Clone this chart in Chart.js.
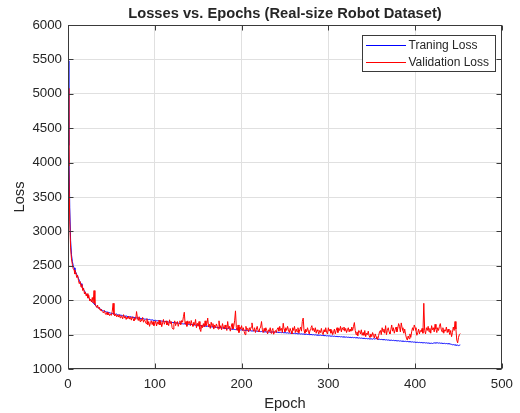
<!DOCTYPE html>
<html>
<head>
<meta charset="utf-8">
<script src="https://cdn.jsdelivr.net/npm/chart.js@4/dist/chart.umd.min.js"></script>
<style>
  html, body { margin: 0; padding: 0; background: #ffffff; }
  #plot { display: block; }
</style>
</head>
<body>
<canvas id="plot" width="520" height="413"></canvas>
<script>
// Training loss per epoch (epoch index = array position)
const trainLoss = [
  5480, 4250, 3350, 2870, 2660, 2565, 2505, 2470, 2440, 2405,
  2375, 2350, 2318, 2290, 2262, 2240, 2205, 2182, 2150, 2138,
  2105, 2090, 2072, 2055, 2030, 2018, 2000, 1988, 1972, 1960,
  1948, 1932, 1922, 1908, 1898, 1890, 1878, 1872, 1866, 1858,
  1850, 1845, 1840, 1836, 1828, 1830, 1822, 1818, 1820, 1812,
  1810, 1806, 1804, 1800, 1798, 1795, 1799, 1790, 1787, 1784,
  1782, 1785, 1778, 1774, 1776, 1770, 1768, 1772, 1764, 1761,
  1760, 1758, 1762, 1754, 1752, 1755, 1748, 1746, 1750, 1742,
  1740, 1744, 1737, 1735, 1739, 1731, 1729, 1733, 1726, 1724,
  1725, 1728, 1720, 1717, 1721, 1714, 1712, 1716, 1709, 1706,
  1705, 1708, 1702, 1700, 1704, 1697, 1699, 1695, 1698, 1694,
  1695, 1690, 1693, 1687, 1684, 1688, 1681, 1679, 1683, 1676,
  1675, 1678, 1672, 1670, 1674, 1667, 1665, 1669, 1662, 1660,
  1660, 1663, 1657, 1655, 1659, 1652, 1654, 1650, 1653, 1648,
  1650, 1646, 1648, 1643, 1641, 1645, 1639, 1637, 1640, 1634,
  1636, 1632, 1634, 1630, 1628, 1631, 1626, 1624, 1627, 1621,
  1620, 1623, 1617, 1615, 1618, 1612, 1614, 1609, 1611, 1607,
  1610, 1605, 1603, 1606, 1600, 1598, 1601, 1595, 1597, 1592,
  1594, 1589, 1591, 1586, 1585, 1588, 1582, 1584, 1579, 1581,
  1577, 1580, 1575, 1573, 1576, 1571, 1574, 1569, 1572, 1567,
  1570, 1565, 1567, 1562, 1564, 1560, 1563, 1558, 1560, 1555,
  1558, 1553, 1556, 1551, 1554, 1555, 1549, 1552, 1547, 1550,
  1545, 1548, 1543, 1546, 1541, 1544, 1539, 1542, 1540, 1537,
  1540, 1536, 1538, 1534, 1537, 1541, 1536, 1539, 1534, 1537,
  1533, 1536, 1531, 1534, 1530, 1533, 1528, 1531, 1527, 1529,
  1525, 1528, 1523, 1526, 1521, 1524, 1519, 1522, 1518, 1520,
  1516, 1519, 1514, 1517, 1512, 1515, 1510, 1513, 1508, 1511,
  1507, 1510, 1505, 1508, 1503, 1506, 1501, 1504, 1499, 1502,
  1498, 1501, 1496, 1499, 1494, 1497, 1492, 1495, 1490, 1493,
  1489, 1492, 1487, 1490, 1485, 1488, 1483, 1486, 1481, 1484,
  1480, 1483, 1478, 1481, 1476, 1479, 1474, 1477, 1472, 1475,
  1471, 1474, 1469, 1472, 1467, 1470, 1465, 1468, 1463, 1466,
  1462, 1465, 1460, 1463, 1458, 1461, 1459, 1456, 1460, 1455,
  1458, 1453, 1456, 1451, 1454, 1449, 1452, 1447, 1450, 1445,
  1448, 1443, 1446, 1441, 1444, 1439, 1442, 1437, 1440, 1436,
  1438, 1434, 1441, 1436, 1439, 1442, 1438, 1432, 1429, 1433,
  1428, 1431, 1426, 1429, 1424, 1427, 1422, 1425, 1420, 1423,
  1418, 1421, 1416, 1419, 1414, 1417, 1412, 1415, 1410, 1413,
  1408, 1411, 1406, 1409, 1404, 1407, 1402, 1405, 1400, 1403,
  1398, 1401, 1396, 1399, 1394, 1396, 1392, 1395, 1390, 1393,
  1388, 1391, 1386, 1389, 1384, 1387, 1383, 1386, 1381, 1384,
  1380, 1383, 1378, 1381, 1376, 1379, 1374, 1377, 1372, 1375,
  1371, 1376, 1380, 1377, 1382, 1378, 1381, 1376, 1379, 1374,
  1377, 1372, 1375, 1370, 1373, 1368, 1371, 1366, 1369, 1364,
  1366, 1361, 1358, 1352, 1355, 1349, 1352, 1346, 1343, 1348,
  1340, 1345, 1350
];

// Validation loss per epoch
const valLoss = [
  5080, 3950, 3150, 2760, 2600, 2520, 2455, 2440, 2380, 2400,
  2330, 2365, 2290, 2240, 2270, 2190, 2230, 2140, 2175, 2090,
  2120, 2060, 2095, 2030, 2070, 1990, 2015, 1975, 2040, 1960,
  2140, 1945, 1920, 1895, 1930, 1880, 1900, 1855, 1870, 1840,
  1830, 1815, 1850, 1800, 1790, 1825, 1785, 1810, 1775, 1795,
  1780, 1840, 1955, 1790, 1770, 1800, 1760, 1785, 1755, 1790,
  1745, 1775, 1760, 1730, 1790, 1740, 1765, 1720, 1755, 1735,
  1770, 1725, 1750, 1710, 1760, 1730, 1700, 1745, 1720, 1835,
  1740, 1705, 1760, 1690, 1725, 1700, 1750, 1680, 1715, 1695,
  1660, 1730, 1640, 1690, 1620, 1675, 1700, 1645, 1690, 1630,
  1660, 1700, 1625, 1680, 1650, 1710, 1640, 1690, 1615, 1670,
  1720, 1650, 1685, 1700, 1640, 1675, 1630, 1715, 1660, 1690,
  1600, 1580, 1650, 1700, 1630, 1675, 1690, 1620, 1665, 1700,
  1640, 1705, 1680, 1760, 1825, 1650, 1690, 1620, 1700, 1660,
  1690, 1630, 1705, 1650, 1620, 1680, 1640, 1720, 1600, 1665,
  1620, 1690, 1580, 1545, 1640, 1600, 1660, 1610, 1700, 1630,
  1660, 1740, 1610, 1650, 1590, 1680, 1620, 1660, 1580, 1640,
  1600, 1655, 1620, 1580, 1700, 1590, 1630, 1570, 1660, 1610,
  1580, 1640, 1600, 1560, 1690, 1590, 1620, 1550, 1610, 1660,
  1580, 1620, 1700, 1845, 1600, 1560, 1640, 1530, 1610, 1580,
  1630, 1560, 1600, 1545, 1500, 1620, 1570, 1590, 1540, 1600,
  1560, 1610, 1670, 1580, 1550, 1600, 1530, 1580, 1620, 1560,
  1540, 1590, 1610, 1690, 1570, 1530, 1590, 1550, 1600, 1560,
  1510, 1570, 1545, 1600, 1520, 1560, 1590, 1505, 1540, 1560,
  1530, 1580, 1600, 1550, 1620, 1560, 1590, 1530, 1665, 1580,
  1540, 1600, 1560, 1620, 1570, 1530, 1590, 1550, 1510, 1600,
  1560, 1620, 1530, 1580, 1540, 1600, 1520, 1570, 1610, 1550,
  1690, 1740, 1560, 1520, 1580, 1540, 1600, 1550, 1510, 1570,
  1600, 1630, 1560, 1590, 1540, 1600, 1520, 1570, 1550, 1510,
  1560, 1530, 1590, 1520, 1500, 1570, 1540, 1600, 1530, 1510,
  1600, 1550, 1580, 1520, 1560, 1500, 1540, 1580, 1510, 1560,
  1600, 1530, 1590, 1560, 1620, 1540, 1600, 1570, 1610, 1550,
  1590, 1530, 1570, 1600, 1540, 1580, 1550, 1610, 1560, 1620,
  1675, 1560, 1500, 1540, 1480, 1560, 1550, 1510, 1570, 1490,
  1530, 1490, 1560, 1470, 1520, 1500, 1550, 1480, 1460, 1510,
  1470, 1530, 1490, 1450, 1510, 1470, 1440, 1430, 1490, 1540,
  1560, 1500, 1600, 1540, 1580, 1520, 1630, 1500, 1560, 1600,
  1540, 1510, 1570, 1640, 1550, 1600, 1520, 1570, 1610, 1540,
  1590, 1660, 1620, 1540, 1670, 1600, 1560, 1520, 1580, 1500,
  1450, 1420, 1480, 1440, 1510, 1460, 1540, 1600, 1560, 1640,
  1600, 1560, 1490, 1530, 1580, 1510, 1560, 1540, 1590, 1520,
  1955, 1560, 1510, 1600, 1560, 1620, 1540, 1590, 1520, 1630,
  1570, 1600, 1540, 1650, 1580, 1530, 1600, 1560, 1620, 1660,
  1580, 1540, 1600, 1520, 1570, 1550, 1610, 1530, 1580, 1540,
  1500, 1560, 1470, 1530, 1610, 1560, 1690, 1580, 1420, 1380,
  1460, 1500, 1515
];

const seriesNames = ['Traning Loss', 'Validation Loss'];
const xTicks = [0, 100, 200, 300, 400, 500];
const yTicks = [1000, 1500, 2000, 2500, 3000, 3500, 4000, 4500, 5000, 5500, 6000];
const titleText = 'Losses vs. Epochs (Real-size Robot Dataset)';
const xLabel = 'Epoch';
const yLabel = 'Loss';

const FONT = '"Liberation Sans", Arial, Helvetica, sans-serif';
const INK = '#262626';
const BLUE = 'rgb(0,0,255)';
const RED = 'rgb(255,0,0)';

const toPoints = arr => arr.map((v, i) => ({ x: i, y: v }));

// Title, axis labels, boxed axes with inward ticks, and the legend
const decorations = {
  id: 'decorations',
  afterDraw(chart) {
    const { ctx, chartArea: a, scales } = chart;
    ctx.save();
    ctx.fillStyle = INK;
    ctx.textAlign = 'center';
    ctx.textBaseline = 'middle';
    ctx.font = 'bold 14.7px ' + FONT;
    ctx.fillText(titleText, (a.left + a.right) / 2, 14);
    ctx.font = '14.7px ' + FONT;
    ctx.fillText(xLabel, (a.left + a.right) / 2, 404);
    ctx.save();
    ctx.translate(20, (a.top + a.bottom) / 2);
    ctx.rotate(-Math.PI / 2);
    ctx.fillText(yLabel, 0, 0);
    ctx.restore();

    // box
    ctx.strokeStyle = '#3a3a3a';
    ctx.lineWidth = 1;
    const L = Math.round(a.left) + 0.5, R = Math.round(a.right) - 0.5;
    const T = Math.round(a.top) + 0.5, B = Math.round(a.bottom) - 0.5;
    ctx.strokeRect(L, T, R - L, B - T);

    // inward ticks on all four sides
    const tl = 5;
    ctx.beginPath();
    xTicks.forEach(v => {
      const px = Math.round(scales.x.getPixelForValue(v)) + 0.5;
      ctx.moveTo(px, B); ctx.lineTo(px, B - tl);
      ctx.moveTo(px, T); ctx.lineTo(px, T + tl);
    });
    yTicks.forEach(v => {
      const py = Math.round(scales.y.getPixelForValue(v)) + 0.5;
      ctx.moveTo(L, py); ctx.lineTo(L + tl, py);
      ctx.moveTo(R, py); ctx.lineTo(R - tl, py);
    });
    ctx.stroke();

    // legend
    const lx = 362.5, ly = 35.5, lw = 133, lh = 36;
    ctx.fillStyle = '#ffffff';
    ctx.fillRect(lx, ly, lw, lh);
    ctx.strokeStyle = '#3a3a3a';
    ctx.strokeRect(lx, ly, lw, lh);
    const rows = [[seriesNames[0], BLUE, 45.5], [seriesNames[1], RED, 62.5]];
    ctx.font = '12px ' + FONT;
    ctx.textAlign = 'left';
    rows.forEach(([label, color, y]) => {
      ctx.strokeStyle = color;
      ctx.beginPath();
      ctx.moveTo(366, y); ctx.lineTo(406, y);
      ctx.stroke();
      ctx.fillStyle = INK;
      ctx.fillText(label, 408.5, y);
    });
    ctx.restore();
  }
};

Chart.defaults.font.family = FONT;
Chart.defaults.color = INK;

new Chart(document.getElementById('plot'), {
  type: 'line',
  data: {
    datasets: [
      {
        label: seriesNames[1],
        data: toPoints(valLoss),
        borderColor: RED,
        borderWidth: 1,
        pointRadius: 0,
        tension: 0,
        fill: false
      },
      {
        label: seriesNames[0],
        data: toPoints(trainLoss),
        borderColor: BLUE,
        borderWidth: 1,
        pointRadius: 0,
        tension: 0,
        fill: false
      }
    ]
  },
  options: {
    responsive: false,
    animation: false,
    devicePixelRatio: 1,
    layout: { padding: { top: 25, right: 15, bottom: 0, left: 0 } },
    plugins: {
      legend: { display: false },
      title: { display: false },
      tooltip: { enabled: false }
    },
    scales: {
      x: {
        type: 'linear',
        min: 0,
        max: 500,
        afterFit: s => { s.height = 44; },
        afterBuildTicks: s => { s.ticks = xTicks.map(v => ({ value: v })); },
        ticks: { padding: 7, font: { size: 13.3 }, color: INK, maxRotation: 0, callback: v => String(v) },
        grid: { color: '#e0e0e0', drawTicks: false, lineWidth: 1 },
        border: { display: false }
      },
      y: {
        type: 'linear',
        min: 1000,
        max: 6000,
        afterFit: s => { s.width = 68; },
        afterBuildTicks: s => { s.ticks = yTicks.map(v => ({ value: v })); },
        ticks: { padding: 6, font: { size: 13.3 }, color: INK, callback: v => String(v) },
        grid: { color: '#e0e0e0', drawTicks: false, lineWidth: 1 },
        border: { display: false }
      }
    }
  },
  plugins: [decorations]
});
</script>
</body>
</html>
